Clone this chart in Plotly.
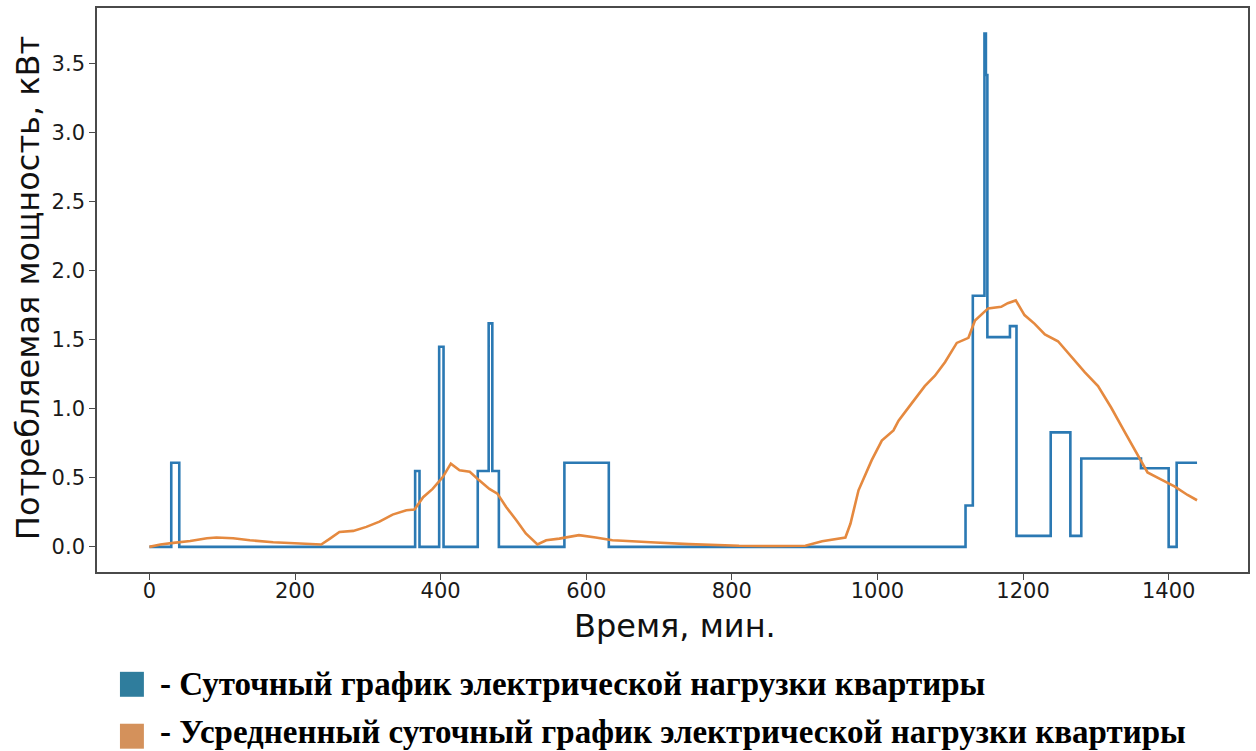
import plotly.graph_objects as go

# ---- Data ----
# Daily load profile of the apartment (step curve): segment start minute and level, kW
load_minutes = [0, 30, 41, 365, 371, 398, 404, 451, 466, 471, 480, 570, 631,
                1121, 1131, 1147, 1149, 1151, 1182, 1191, 1238, 1265, 1280,
                1362, 1400, 1411, 1439]
load_kw = [0.0, 0.61, 0.0, 0.55, 0.0, 1.45, 0.0, 0.55, 1.62, 0.55, 0.0, 0.61, 0.0,
           0.30, 1.82, 3.72, 3.42, 1.52, 1.60, 0.08, 0.83, 0.08, 0.64,
           0.57, 0.0, 0.61, 0.61]

# Averaged daily load profile, kW
avg_minutes = [0, 15, 33, 56, 79, 92, 115, 138, 170, 193, 236, 248, 261, 280, 298,
               316, 334, 353, 364, 376, 389, 403, 414, 426, 440, 453, 467, 478,
               490, 504, 517, 533, 545, 563, 590, 613, 636, 650, 673, 695, 741,
               810, 860, 901, 924, 956, 963, 974, 992, 1006, 1022, 1029, 1047,
               1065, 1079, 1093, 1109, 1125, 1134, 1152, 1170, 1179, 1190, 1202,
               1216, 1230, 1248, 1266, 1285, 1303, 1321, 1339, 1358, 1371, 1390,
               1408, 1426, 1439]
avg_kw = [0.0, 0.017, 0.029, 0.043, 0.063, 0.068, 0.063, 0.048, 0.034, 0.029, 0.017,
          0.06, 0.108, 0.116, 0.145, 0.183, 0.234, 0.265, 0.27, 0.36, 0.42, 0.506,
          0.603, 0.555, 0.545, 0.482, 0.42, 0.386, 0.289, 0.193, 0.097, 0.017,
          0.048, 0.06, 0.085, 0.068, 0.048, 0.044, 0.04, 0.032, 0.02, 0.008, 0.006,
          0.008, 0.041, 0.068, 0.169, 0.41, 0.627, 0.77, 0.844, 0.914, 1.04, 1.165,
          1.24, 1.34, 1.478, 1.515, 1.64, 1.728, 1.74, 1.766, 1.786, 1.68, 1.616,
          1.54, 1.49, 1.378, 1.265, 1.165, 1.01, 0.839, 0.664, 0.539, 0.488, 0.438,
          0.376, 0.338]

x_ticks = [0, 200, 400, 600, 800, 1000, 1200, 1400]
y_ticks = [0.0, 0.5, 1.0, 1.5, 2.0, 2.5, 3.0, 3.5]

x_title = "Время, мин."
y_title = "Потребляемая мощность, кВт"
legend_labels = ["- Суточный график электрической нагрузки квартиры",
                 "- Усредненный суточный график электрической нагрузки квартиры"]

# ---- Layout geometry (pixels) ----
W, H = 1256, 751
L, R, T, B = 96.5, 1250, 7, 572  # plot-area edges
pw, ph = R - L, B - T


def px(x):
    return (x - L) / pw


def py(y):
    return (B - y) / ph


line_blue = "#2b79b3"
line_orange = "#e5893f"
sq_blue = "#2f7d9d"
sq_orange = "#d4915b"

fig = go.Figure()
fig.add_trace(go.Scatter(x=load_minutes, y=load_kw, mode="lines",
                         line=dict(color=line_blue, width=2.6, shape="hv"),
                         showlegend=False))
fig.add_trace(go.Scatter(x=avg_minutes, y=avg_kw, mode="lines",
                         line=dict(color=line_orange, width=2.6),
                         showlegend=False))

axis_common = dict(showgrid=False, zeroline=False, showline=True, mirror=True,
                   linecolor="#4a4a4a", linewidth=1.6, ticks="outside",
                   ticklen=6, tickwidth=1.4, tickcolor="#4a4a4a",
                   tickfont=dict(family="DejaVu Sans", size=21, color="#1a1a1a"))

fig.update_xaxes(range=[-72, 1509], tickvals=x_ticks,
                 ticktext=[str(v) for v in x_ticks], ticklabelstandoff=-7,
                 **axis_common)
fig.update_yaxes(range=[-0.182, 3.905], tickvals=y_ticks,
                 ticktext=[f"{v:.1f}" for v in y_ticks], **axis_common)

annotations = [
    dict(text=y_title, x=px(27), y=py(288), xref="paper", yref="paper",
         textangle=-90, showarrow=False, xanchor="center", yanchor="middle",
         font=dict(family="DejaVu Sans", size=32, color="#111")),
    dict(text=x_title, x=px(676), y=py(626), xref="paper", yref="paper",
         showarrow=False, xanchor="center", yanchor="middle",
         font=dict(family="DejaVu Sans", size=32, color="#111")),
    dict(text="<b>" + legend_labels[0] + "</b>", x=px(158), y=py(684),
         xref="paper", yref="paper", showarrow=False, xanchor="left",
         yanchor="middle",
         font=dict(family="Liberation Serif", size=33, color="#000")),
    dict(text="<b>" + legend_labels[1] + "</b>", x=px(158), y=py(732),
         xref="paper", yref="paper", showarrow=False, xanchor="left",
         yanchor="middle",
         font=dict(family="Liberation Serif", size=33, color="#000")),
]

shapes = [
    dict(type="rect", xref="paper", yref="paper", x0=px(119.5), x1=px(143.5),
         y0=py(672), y1=py(697), fillcolor=sq_blue, line=dict(width=0)),
    dict(type="rect", xref="paper", yref="paper", x0=px(119.5), x1=px(143.5),
         y0=py(724), y1=py(749), fillcolor=sq_orange, line=dict(width=0)),
]

fig.update_layout(width=W, height=H, autosize=False,
                  margin=dict(l=L, r=W - R, t=T, b=H - B, pad=0),
                  paper_bgcolor="white", plot_bgcolor="white",
                  annotations=annotations, shapes=shapes, showlegend=False)

fig.write_html("out.html", config={"displayModeBar": False},
               post_script="document.body.style.margin='0';"
                           "document.body.style.overflow='hidden';")
